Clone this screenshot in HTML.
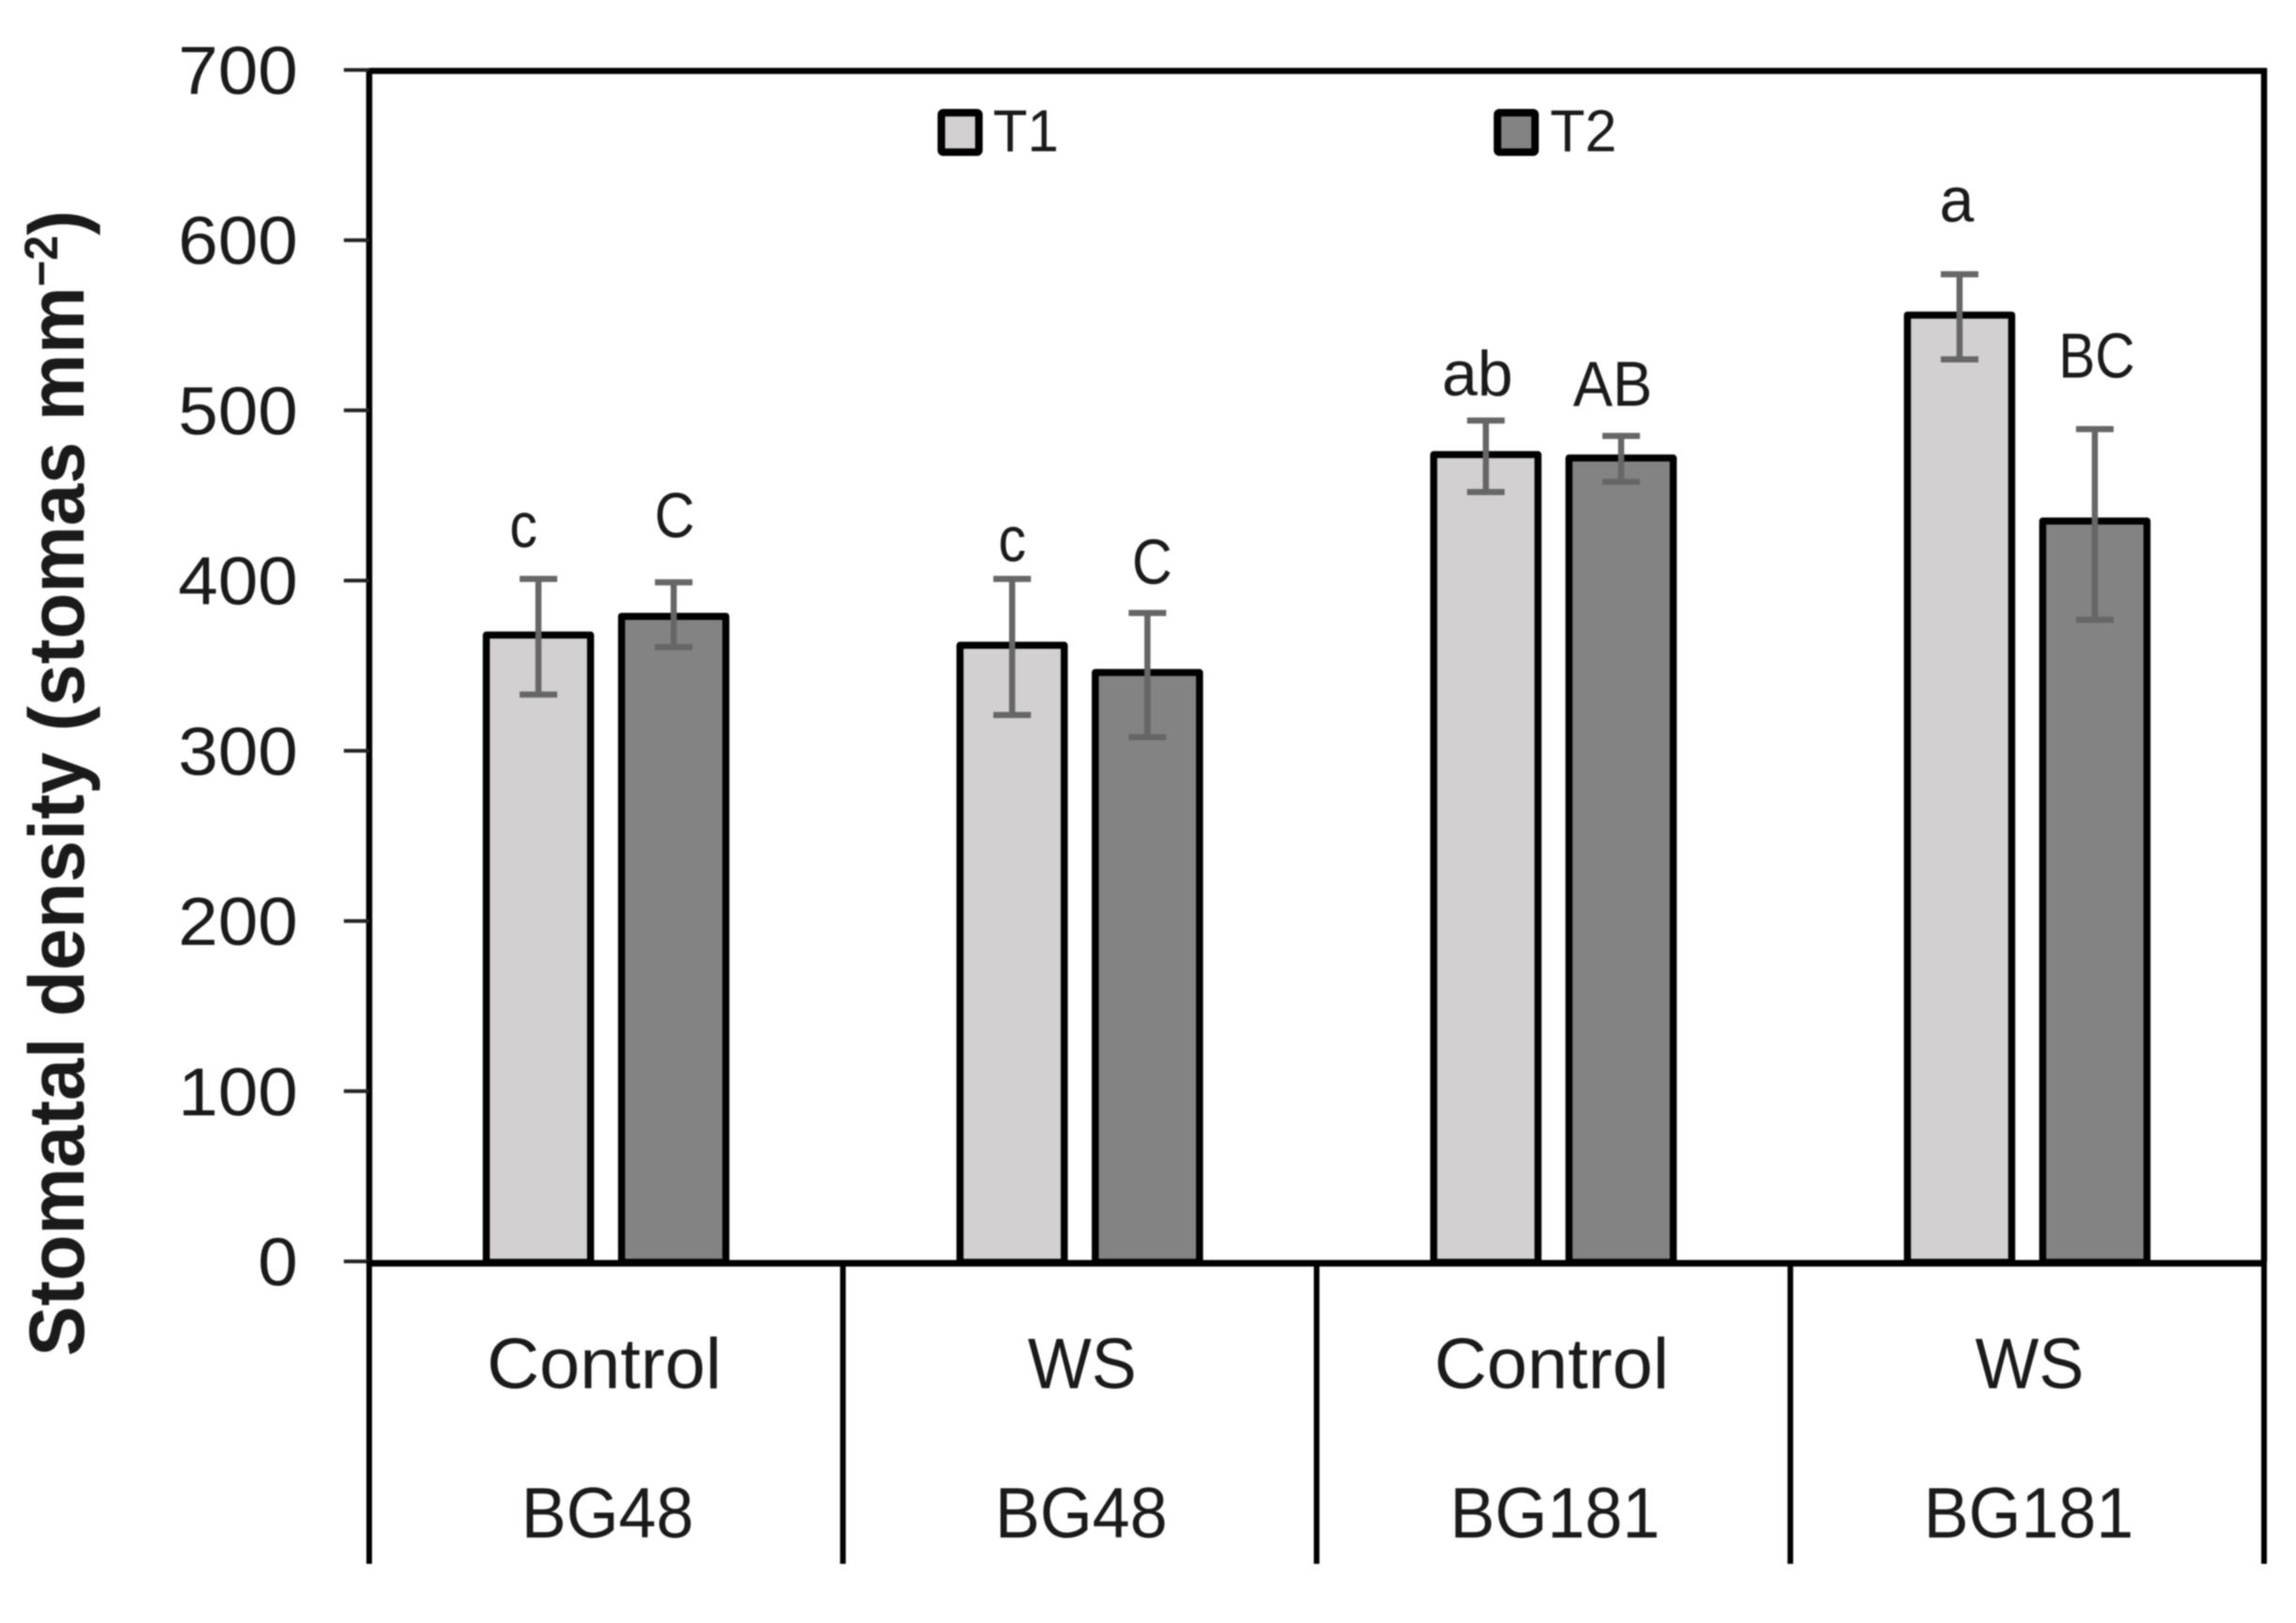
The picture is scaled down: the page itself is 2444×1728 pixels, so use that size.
<!DOCTYPE html>
<html lang="en">
<head>
<meta charset="utf-8">
<title>Stomatal density chart</title>
<style>
  html, body { margin: 0; padding: 0; background: #ffffff; }
  svg { display: block; filter: blur(0.7px); }
  text { font-family: "Liberation Sans", sans-serif; fill: #1a1a1a; }
</style>
</head>
<body>
<svg id="chart" xmlns="http://www.w3.org/2000/svg" width="2444" height="1728" viewBox="0 0 2444 1728">
  <rect x="0" y="0" width="2444" height="1728" fill="#ffffff"/>
  <text transform="translate(89 834) rotate(-90) scale(0.957 1)" text-anchor="middle" font-size="84" font-weight="700">Stomatal density (stomas mm<tspan font-size="50" dy="-28">−2</tspan><tspan dy="28">)</tspan></text>
  <g id="legend">
    <g>
      <rect x="1002" y="120" width="40" height="42" rx="2" fill="#d3d0d1" stroke="#000" stroke-width="8"/>
      <text x="1057" y="161" font-size="63" textLength="70" lengthAdjust="spacingAndGlyphs">T1</text>
    </g>
    <g>
      <rect x="1594" y="120" width="40" height="42" rx="2" fill="#838383" stroke="#000" stroke-width="8"/>
      <text x="1650" y="161" font-size="63" textLength="71" lengthAdjust="spacingAndGlyphs">T2</text>
    </g>
  </g>
  <g id="bars"></g>
  <g id="axes"></g>
  <g id="errors"></g>
  <g id="letters"></g>
  <g id="cats"></g>
</svg>
<script>
const treatments = ["Control", "WS", "Control", "WS"];
const genotypes = ["BG48", "BG48", "BG181", "BG181"];
const yTicks = [0, 100, 200, 300, 400, 500, 600, 700];
const t1Values = [368, 362, 474, 556];
const t2Values = [379, 346, 472, 435];
const t1Upper = [401, 401, 494, 580];
const t2Upper = [399, 381, 485, 489];
const t1Lower = [333, 321, 452, 530];
const t2Lower = [361, 308, 458, 377];
const t1Letters = ["c", "c", "ab", "a"];
const t2Letters = ["C", "C", "AB", "BC"];

/* Manual text-box nudges relative to the top of each error bar: dx, dy, horizontal fit */
const t1Nudge = [[-16, -34, 0.87], [0, -19, 0.87], [-9, -27, 1], [-3, -56, 0.97]];
const t2Nudge = [[1, -48, 0.87], [5, -31, 0.87], [-9, -32, 0.93], [2, -55, 0.86]];

const NS = "http://www.w3.org/2000/svg";
const plot = { left: 393, right: 2410, top: 74.5, zero: 1343, max: 700, bottom: 1665 };
const groupWidth = (plot.right - plot.left) / treatments.length;
const barOffset = 72;
const barWidth = 111;

function yScale(v) {
  return plot.zero - (v / plot.max) * (plot.zero - plot.top);
}
function groupCenter(i) {
  return plot.left + groupWidth * (i + 0.5);
}
function make(tag, attrs, parent) {
  const el = document.createElementNS(NS, tag);
  for (const k in attrs) el.setAttribute(k, attrs[k]);
  parent.appendChild(el);
  return el;
}

const barsG = document.getElementById("bars");
const axesG = document.getElementById("axes");
const errG = document.getElementById("errors");
const lettersG = document.getElementById("letters");
const catsG = document.getElementById("cats");

function drawSeries(values, upper, lower, letters, nudge, sign, fill, seriesName) {
  values.forEach(function (v, i) {
    const cx = groupCenter(i) + sign * barOffset;
    const top = yScale(v);

    const bar = make("rect", {
      x: cx - barWidth / 2, y: top, width: barWidth, height: plot.zero + 1 - top,
      fill: fill, stroke: "#000000", "stroke-width": 7.5, "stroke-linejoin": "round"
    }, barsG);
    
    

    const yU = yScale(upper[i]);
    const yL = yScale(lower[i]);
    const err = make("path", {
      d: "M" + cx + " " + yU + "V" + yL + "M" + (cx - 20) + " " + yU + "H" + (cx + 20) + "M" + (cx - 20) + " " + yL + "H" + (cx + 20),
      fill: "none", stroke: "#666666", "stroke-width": 6.5
    }, errG);
    
    

    const label = make("text", {
      x: 0, y: 0, "text-anchor": "middle", "font-size": 68,
      transform: "translate(" + (cx + nudge[i][0]) + " " + (yU + nudge[i][1]) + ") scale(" + nudge[i][2] + " 1)"
    }, lettersG);
    label.textContent = letters[i];
    
    
  });
}

drawSeries(t1Values, t1Upper, t1Lower, t1Letters, t1Nudge, -1, "#d3d0d1", "t1");
drawSeries(t2Values, t2Upper, t2Lower, t2Letters, t2Nudge, 1, "#838383", "t2");

/* Frame */
const frameTop = make("line", { x1: plot.left, x2: plot.right + 3, y1: plot.top + 1, y2: plot.top + 1, stroke: "#000", "stroke-width": 6.5 }, axesG);



const frameBase = make("line", { x1: plot.left, x2: plot.right + 3, y1: plot.zero + 2, y2: plot.zero + 2, stroke: "#000", "stroke-width": 7 }, axesG);



const frameRight = make("line", { x1: plot.right, x2: plot.right, y1: plot.top - 2, y2: plot.zero, stroke: "#000", "stroke-width": 6.5 }, axesG);



const frameLeft = make("line", { x1: plot.left, x2: plot.left, y1: plot.top - 2, y2: plot.zero, stroke: "#000", "stroke-width": 6.5 }, axesG);



/* Y ticks and labels */
yTicks.forEach(function (t) {
  const y = yScale(t);
  const tick = make("line", { x1: 366, x2: plot.left, y1: y, y2: y, stroke: "#222", "stroke-width": 4 }, axesG);
  
  

  const lab = make("text", {
    x: 0, y: 0, "text-anchor": "end", "font-size": 72,
    transform: "translate(317 " + (y + 25.5) + ") scale(1.06 1)"
  }, axesG);
  lab.textContent = String(t);
  
  
});

/* Category dividers and labels */
for (let i = 0; i <= treatments.length; i++) {
  const x = plot.left + groupWidth * i;
  const div = make("line", { x1: x, x2: x, y1: plot.zero, y2: plot.bottom, stroke: "#000", "stroke-width": 6 }, catsG);
  
  
}
treatments.forEach(function (name, i) {
  const cx = groupCenter(i);
  const isWS = name === "WS";
  const tLabel = make("text", {
    x: 0, y: 0, "text-anchor": "middle", "font-size": 76,
    transform: "translate(" + (cx + (isWS ? 2.5 : -2)) + " 1478) scale(" + (isWS ? 0.945 : 1.02) + " 1)"
  }, catsG);
  tLabel.textContent = name;
  
  

  const gLabel = make("text", {
    x: 0, y: 0, "text-anchor": "middle", "font-size": 76,
    transform: "translate(" + (cx + 1.5) + " 1637) scale(0.945 1)"
  }, catsG);
  gLabel.textContent = genotypes[i];
  
  
});
</script>
</body>
</html>
